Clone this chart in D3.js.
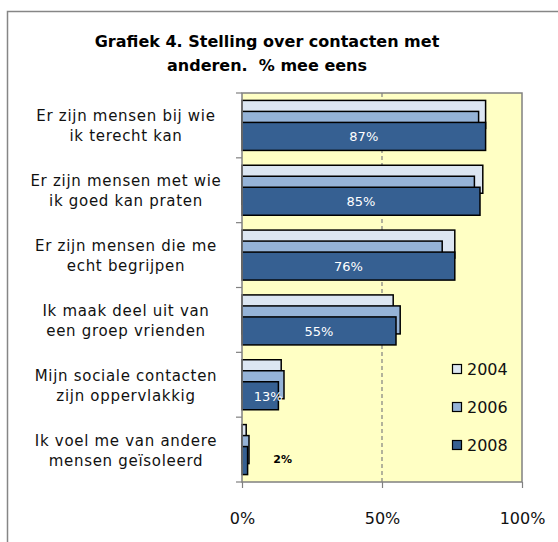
<!DOCTYPE html>
<html>
<head>
<meta charset="utf-8">
<script src="https://cdn.jsdelivr.net/npm/d3@7"></script>
<style>
  body { margin: 0; background: #fff; }
  text { font-family: "DejaVu Sans", sans-serif; }
</style>
</head>
<body>
<svg width="558" height="542"></svg>
<script>
// chart data
var categories = [
  ["Er zijn mensen bij wie", "ik terecht kan"],
  ["Er zijn mensen met wie", "ik goed kan praten"],
  ["Er zijn mensen die me", "echt begrijpen"],
  ["Ik maak deel uit van", "een groep vrienden"],
  ["Mijn sociale contacten", "zijn oppervlakkig"],
  ["Ik voel me van andere", "mensen geïsoleerd"]
];
var years = ["2004", "2006", "2008"];
var values2004 = [87, 86, 76, 54, 14, 1.5];
var values2006 = [84.5, 83, 71.5, 56.5, 15, 2.5];
var values2008 = [87, 85, 76, 55, 13, 2];
var xTicks = [0, 0.5, 1];
var colors = ["#dce6f2", "#95b3d7", "#366092"];

var series = [values2004, values2006, values2008];

var svg = d3.select("svg");

// outer chart frame
svg.append("rect")
    .attr("x", 7.5).attr("y", 11.5)
    .attr("width", 620).attr("height", 620)
    .attr("fill", "#fff")
    .attr("stroke", "#868686").attr("stroke-width", 1.5);

// title
svg.append("text")
    .attr("x", 267).attr("y", 47)
    .attr("text-anchor", "middle")
    .style("font-size", "16px").style("font-weight", "bold")
    .text("Grafiek 4. Stelling over contacten met");
svg.append("text")
    .attr("x", 267).attr("y", 71)
    .attr("text-anchor", "middle")
    .style("font-size", "16px").style("font-weight", "bold")
    .style("white-space", "pre")
    .text("anderen.  % mee eens");

// plot area
var plot = { left: 242, right: 522, top: 93, bottom: 482 };

var x = d3.scaleLinear().domain([0, 1]).range([plot.left, plot.right]);
var y = d3.scaleBand()
    .domain(d3.range(categories.length))
    .range([plot.top, plot.bottom]);

svg.append("rect")
    .attr("x", plot.left).attr("y", plot.top)
    .attr("width", plot.right - plot.left).attr("height", plot.bottom - plot.top)
    .attr("fill", "#ffffc4");

// gridline at 50%
svg.append("line")
    .attr("x1", x(0.5)).attr("x2", x(0.5))
    .attr("y1", plot.top).attr("y2", plot.bottom)
    .attr("stroke", "#808080").attr("stroke-width", 1.2)
    .attr("stroke-dasharray", "4,3");

// bars: overlapping, each one shifted down
var barH = 28, step = 11;
var groupTop = (plot.bottom - plot.top) / categories.length / 2 - (barH + 2 * step) / 2;

series.forEach(function (vals, s) {
    svg.append("g").selectAll("rect")
        .data(vals)
        .enter().append("rect")
        .attr("x", x(0))
        .attr("y", function (d, i) { return y(i) + groupTop + s * step; })
        .attr("width", function (d) { return x(d / 100) - x(0); })
        .attr("height", barH)
        .attr("fill", colors[s])
        .attr("stroke", "#000").attr("stroke-width", 1.5);
});

// labels on 2008 bars
svg.append("g").selectAll("text")
    .data(values2008)
    .enter().append("text")
    .attr("x", function (d) { return d < 5 ? x(0.145) : (x(0) + x(d / 100)) / 2 + (d < 20 ? 8 : 0); })
    .attr("y", function (d, i) { return y(i) + groupTop + 2 * step + barH / 2 + (d < 5 ? 2 : 5); })
    .attr("text-anchor", "middle")
    .attr("fill", function (d) { return d < 5 ? "#000" : "#fff"; })
    .style("font-size", function (d) { return d < 5 ? "11px" : "13px"; })
    .style("font-weight", function (d) { return d < 5 ? "bold" : "normal"; })
    .text(function (d) { return Math.round(d) + "%"; });

// plot border
svg.append("rect")
    .attr("x", plot.left).attr("y", plot.top)
    .attr("width", plot.right - plot.left).attr("height", plot.bottom - plot.top)
    .attr("fill", "none")
    .attr("stroke", "#808080").attr("stroke-width", 1.5);

// category axis ticks
svg.append("g").selectAll("line")
    .data(d3.range(categories.length + 1))
    .enter().append("line")
    .attr("x1", plot.left - 6).attr("x2", plot.left)
    .attr("y1", function (i) { return plot.top + i * y.step(); })
    .attr("y2", function (i) { return plot.top + i * y.step(); })
    .attr("stroke", "#808080").attr("stroke-width", 1.2);

// category labels
var catG = svg.append("g").selectAll("text")
    .data(categories)
    .enter().append("text")
    .attr("text-anchor", "middle")
    .style("font-size", "15px")
    .style("letter-spacing", "0.7px")
    .attr("fill", "#111");
catG.append("tspan")
    .attr("x", 126)
    .attr("y", function (d, i) { return y(i) + y.bandwidth() / 2 - 4; })
    .text(function (d) { return d[0]; });
catG.append("tspan")
    .attr("x", 126)
    .attr("y", function (d, i) { return y(i) + y.bandwidth() / 2 + 16; })
    .text(function (d) { return d[1]; });

// x axis
var xAxis = d3.axisBottom(x)
    .tickValues(xTicks)
    .tickFormat(d3.format(".0%"))
    .tickSize(6)
    .tickPadding(25);
var xg = svg.append("g")
    .attr("transform", "translate(0," + plot.bottom + ")")
    .call(xAxis);
xg.select(".domain").remove();
xg.selectAll("line").attr("stroke", "#808080").attr("stroke-width", 1.2);
xg.selectAll("text")
    .style("font-size", "16px")
    .style("font-family", "DejaVu Sans, sans-serif")
    .attr("fill", "#111");

// legend
var legend = svg.append("g").selectAll("g")
    .data(years)
    .enter().append("g")
    .attr("transform", function (d, i) { return "translate(457," + (369 + i * 38) + ")"; });
legend.append("rect")
    .attr("x", -4.5).attr("y", -4.5)
    .attr("width", 9).attr("height", 9)
    .attr("fill", function (d, i) { return colors[i]; })
    .attr("stroke", "#000").attr("stroke-width", 1.2);
legend.append("text")
    .attr("x", 10).attr("y", 6)
    .style("font-size", "16px")
    .attr("fill", "#111")
    .text(function (d) { return d; });
</script>
</body>
</html>
